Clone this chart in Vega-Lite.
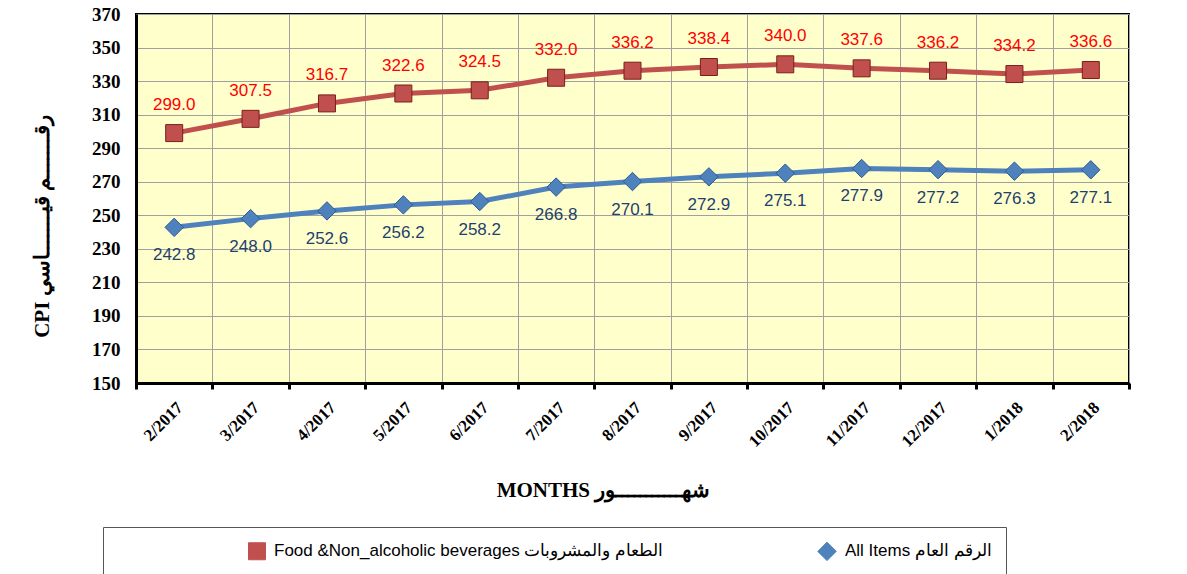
{
  "$schema": "https://vega.github.io/schema/vega-lite/v6.json",
  "autosize": {"type": "none"},
  "padding": {"left": 136, "top": 14, "right": 58, "bottom": 191},
  "width": 993,
  "height": 369,
  "background": "white",
  "data": {
    "values": [
      {"month": "2/2017", "series": "Food &Non_alcoholic beverages الطعام والمشروبات", "value": 299.0},
      {"month": "3/2017", "series": "Food &Non_alcoholic beverages الطعام والمشروبات", "value": 307.5},
      {"month": "4/2017", "series": "Food &Non_alcoholic beverages الطعام والمشروبات", "value": 316.7},
      {"month": "5/2017", "series": "Food &Non_alcoholic beverages الطعام والمشروبات", "value": 322.6},
      {"month": "6/2017", "series": "Food &Non_alcoholic beverages الطعام والمشروبات", "value": 324.5},
      {"month": "7/2017", "series": "Food &Non_alcoholic beverages الطعام والمشروبات", "value": 332.0},
      {"month": "8/2017", "series": "Food &Non_alcoholic beverages الطعام والمشروبات", "value": 336.2},
      {"month": "9/2017", "series": "Food &Non_alcoholic beverages الطعام والمشروبات", "value": 338.4},
      {"month": "10/2017", "series": "Food &Non_alcoholic beverages الطعام والمشروبات", "value": 340.0},
      {"month": "11/2017", "series": "Food &Non_alcoholic beverages الطعام والمشروبات", "value": 337.6},
      {"month": "12/2017", "series": "Food &Non_alcoholic beverages الطعام والمشروبات", "value": 336.2},
      {"month": "1/2018", "series": "Food &Non_alcoholic beverages الطعام والمشروبات", "value": 334.2},
      {"month": "2/2018", "series": "Food &Non_alcoholic beverages الطعام والمشروبات", "value": 336.6},
      {"month": "2/2017", "series": "All Items الرقم العام", "value": 242.8},
      {"month": "3/2017", "series": "All Items الرقم العام", "value": 248.0},
      {"month": "4/2017", "series": "All Items الرقم العام", "value": 252.6},
      {"month": "5/2017", "series": "All Items الرقم العام", "value": 256.2},
      {"month": "6/2017", "series": "All Items الرقم العام", "value": 258.2},
      {"month": "7/2017", "series": "All Items الرقم العام", "value": 266.8},
      {"month": "8/2017", "series": "All Items الرقم العام", "value": 270.1},
      {"month": "9/2017", "series": "All Items الرقم العام", "value": 272.9},
      {"month": "10/2017", "series": "All Items الرقم العام", "value": 275.1},
      {"month": "11/2017", "series": "All Items الرقم العام", "value": 277.9},
      {"month": "12/2017", "series": "All Items الرقم العام", "value": 277.2},
      {"month": "1/2018", "series": "All Items الرقم العام", "value": 276.3},
      {"month": "2/2018", "series": "All Items الرقم العام", "value": 277.1}
    ]
  },
  "encoding": {
    "x": {
      "field": "month", "type": "ordinal", "sort": null, "bandPosition": 0.5,
      "scale": {"type": "band", "paddingInner": 0, "paddingOuter": 0},
      "axis": {
        "title": "MONTHS   شهـــــــــــور",
        "titleFont": "Liberation Serif", "titleFontSize": 21, "titleFontWeight": "bold", "titleColor": "#000",
        "titleX": 467, "titleY": 107, "titleBaseline": "middle",
        "labelAngle": -45, "labelFont": "Liberation Serif", "labelFontSize": 17, "labelFontWeight": "bold", "labelColor": "#000",
        "labelPadding": 10,
        "tickBand": "extent", "grid": true, "gridColor": "#a0a0a0", "gridWidth": 1,
        "domainColor": "#000", "domainWidth": 3, "tickColor": "#000", "tickWidth": 3, "tickSize": 6
      }
    },
    "y": {
      "field": "value", "type": "quantitative",
      "scale": {"domain": [150, 370], "nice": false, "zero": false},
      "axis": {
        "title": "CPI   رقـــــــم قيـــــــاسي",
        "titleFont": "Liberation Serif", "titleFontSize": 21, "titleFontWeight": "bold", "titleColor": "#000",
        "titleX": -94, "titleY": 212, "titleBaseline": "middle",
        "values": [150, 170, 190, 210, 230, 250, 270, 290, 310, 330, 350, 370],
        "labelFont": "Liberation Serif", "labelFontSize": 19, "labelFontWeight": "bold", "labelColor": "#000",
        "labelPadding": 16, "ticks": false,
        "grid": true, "gridColor": "#a0a0a0", "gridWidth": 1,
        "domainColor": "#000", "domainWidth": 3
      }
    }
  },
  "layer": [
    {
      "mark": {"type": "line", "strokeWidth": 5},
      "encoding": {
        "color": {
          "field": "series", "type": "nominal",
          "scale": {"domain": ["Food &Non_alcoholic beverages الطعام والمشروبات", "All Items الرقم العام"], "range": ["#C0504D", "#4F81BD"]},
          "legend": {
            "title": null, "orient": "none", "direction": "horizontal",
            "legendX": -33, "legendY": 513,
            "labelFont": "Liberation Sans", "labelFontSize": 17, "labelColor": "#000", "labelLimit": 600,
            "labelOffset": 8, "symbolOffset": 131,
            "columnPadding": 22, "symbolSize": 200, "symbolStrokeWidth": 1,
            "strokeColor": "#555", "padding": 14
          }
        }
      }
    },
    {
      "mark": {"type": "point", "filled": true, "opacity": 1, "strokeWidth": 1},
      "encoding": {
        "color": {"field": "series", "type": "nominal"},
        "shape": {
          "field": "series", "type": "nominal",
          "scale": {"domain": ["Food &Non_alcoholic beverages الطعام والمشروبات", "All Items الرقم العام"], "range": ["square", "diamond"]}
        },
        "size": {
          "field": "series", "type": "nominal",
          "scale": {"domain": ["Food &Non_alcoholic beverages الطعام والمشروبات", "All Items الرقم العام"], "range": [289, 340]},
          "legend": null
        },
        "stroke": {
          "field": "series", "type": "nominal",
          "scale": {"domain": ["Food &Non_alcoholic beverages الطعام والمشروبات", "All Items الرقم العام"], "range": ["#7A1E1C", "#2B5B93"]},
          "legend": null
        }
      }
    },
    {
      "transform": [{"filter": "datum.series == 'Food &Non_alcoholic beverages الطعام والمشروبات'"}],
      "mark": {"type": "text", "dy": -28, "font": "Liberation Sans", "fontSize": 17, "color": "#FF0000"},
      "encoding": {"text": {"field": "value", "type": "quantitative", "format": ".1f"}}
    },
    {
      "transform": [{"filter": "datum.series == 'All Items الرقم العام'"}],
      "mark": {"type": "text", "dy": 28, "font": "Liberation Sans", "fontSize": 17, "color": "#1F3F6E"},
      "encoding": {"text": {"field": "value", "type": "quantitative", "format": ".1f"}}
    }
  ],
  "config": {
    "view": {"fill": "#FFFFCC", "stroke": "#000", "strokeWidth": 2}
  }
}
